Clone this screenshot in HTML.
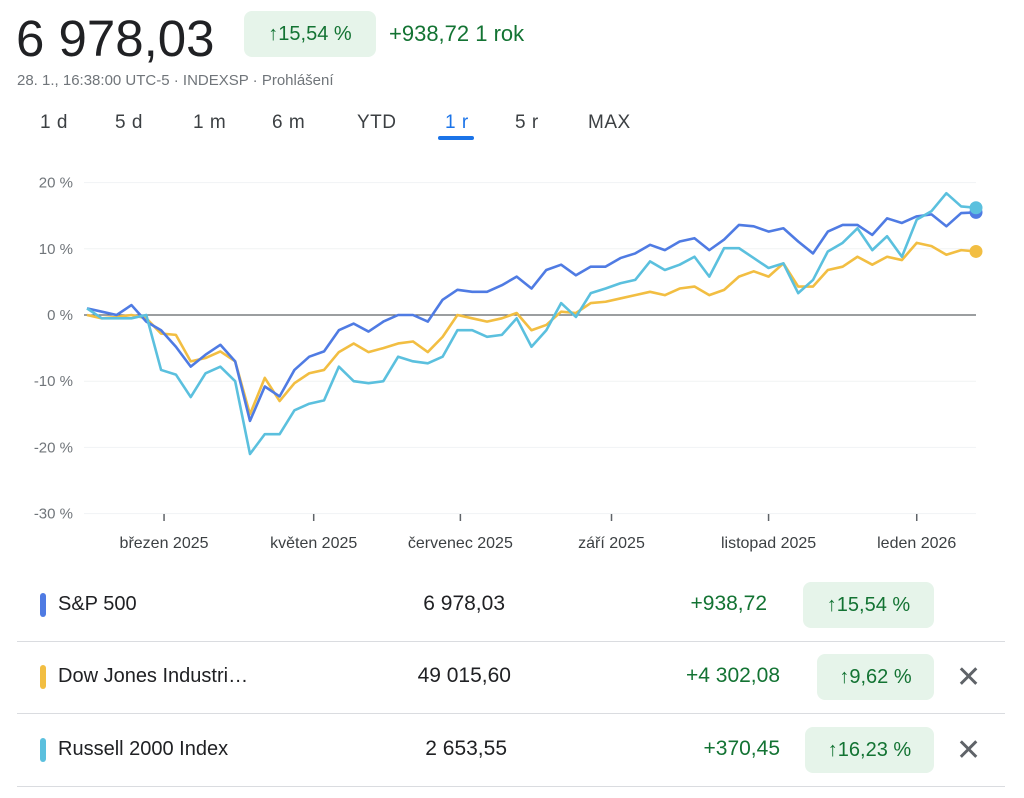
<!DOCTYPE html>
<html><head><meta charset="utf-8">
<style>
body{margin:0;width:1024px;height:798px;background:#fff;font-family:"Liberation Sans",sans-serif;position:relative;overflow:hidden;color:#202124}
.abs{position:absolute;white-space:nowrap}
.badge{position:absolute;background:#e6f4ea;color:#137333;border-radius:8px;font-size:20px;text-align:center}
.green{color:#137333}
.tab{position:absolute;top:112px;font-size:19px;color:#3c4043;letter-spacing:0.5px}
.row-line{position:absolute;left:17px;width:988px;height:1px;background:#dadce0}
.swatch{position:absolute;left:40px;width:6px;height:24px;border-radius:3px}
.name{position:absolute;left:58px;font-size:20px;color:#202124}
.val{position:absolute;font-size:21px;color:#202124;text-align:right}
.chg{position:absolute;font-size:21px;color:#137333;text-align:right}
.x{position:absolute;left:956px;font-size:30px;color:#5f6368;line-height:30px}
</style></head><body>
<div class="abs" style="left:16px;top:9px;font-size:51px;color:#202124">6 978,03</div>
<div class="badge" style="left:244px;top:11px;width:132px;height:46px;line-height:46px">↑15,54 %</div>
<div class="abs green" style="left:389px;top:21px;font-size:22px">+938,72 1 rok</div>
<div class="abs" style="left:17px;top:72px;font-size:15px;color:#70757a">28. 1., 16:38:00 UTC-5 · INDEXSP · Prohlášení</div>
<div class="tab" style="left:40px">1 d</div>
<div class="tab" style="left:115px">5 d</div>
<div class="tab" style="left:193px">1 m</div>
<div class="tab" style="left:272px">6 m</div>
<div class="tab" style="left:357px">YTD</div>
<div class="tab" style="left:445px;color:#1a73e8">1 r</div>
<div class="abs" style="left:438px;top:136px;width:36px;height:4px;border-radius:2px;background:#1a73e8"></div>
<div class="tab" style="left:515px">5 r</div>
<div class="tab" style="left:588px">MAX</div>

<svg id="chart" width="1024" height="560" style="position:absolute;left:0;top:0"></svg>

<div class="row-line" style="top:641px"></div>
<div class="row-line" style="top:713px"></div>
<div class="row-line" style="top:786px"></div>

<div class="swatch" style="top:593px;background:#4f7be3"></div>
<div class="name" style="top:593px">S&amp;P 500</div>
<div class="val" style="left:380px;width:125px;top:592px">6 978,03</div>
<div class="chg" style="left:620px;width:147px;top:592px">+938,72</div>
<div class="badge" style="left:803px;top:582px;width:131px;height:46px;line-height:46px">↑15,54 %</div>

<div class="swatch" style="top:665px;background:#f2be42"></div>
<div class="name" style="top:665px">Dow Jones Industri…</div>
<div class="val" style="left:380px;width:131px;top:664px">49 015,60</div>
<div class="chg" style="left:620px;width:160px;top:664px">+4 302,08</div>
<div class="badge" style="left:817px;top:654px;width:117px;height:46px;line-height:46px">↑9,62 %</div>
<div class="x" style="top:663px">✕</div>

<div class="swatch" style="top:738px;background:#5bc0de"></div>
<div class="name" style="top:738px">Russell 2000 Index</div>
<div class="val" style="left:380px;width:127px;top:737px">2 653,55</div>
<div class="chg" style="left:620px;width:160px;top:737px">+370,45</div>
<div class="badge" style="left:805px;top:727px;width:129px;height:46px;line-height:46px">↑16,23 %</div>
<div class="x" style="top:736px">✕</div>

<script>
const yTicks = [20, 10, 0, -10, -20, -30];
const monthLabels = ["březen 2025","květen 2025","červenec 2025","září 2025","listopad 2025","leden 2026"];
const monthIndex = [5.2, 15.3, 25.2, 35.4, 46.0, 56.0];
const sp500 = [1,0.5,0,1.5,-1,-2.3,-4.8,-7.8,-6,-4.5,-7,-16,-10.8,-12.3,-8.3,-6.3,-5.5,-2.3,-1.3,-2.5,-1,0,0,-1,2.3,3.8,3.5,3.5,4.5,5.8,4,6.8,7.6,6,7.3,7.3,8.6,9.3,10.6,9.8,11.1,11.6,9.8,11.4,13.6,13.4,12.6,13.1,11.1,9.3,12.6,13.6,13.6,12.1,14.6,13.9,14.9,15.2,13.4,15.4,15.5];
const dow = [0,-0.5,-0.3,0,-0.5,-2.8,-3,-7,-6.5,-5.5,-7,-15,-9.5,-13,-10.3,-8.8,-8.3,-5.6,-4.3,-5.6,-5,-4.3,-4,-5.6,-3.3,0,-0.5,-1,-0.5,0.3,-2.3,-1.5,0.5,0.3,1.8,2,2.5,3,3.5,3,4,4.3,3,3.8,5.8,6.6,5.8,7.8,4.3,4.3,6.8,7.3,8.8,7.6,8.8,8.3,10.9,10.4,9.1,9.8,9.6];
const russell = [1,-0.5,-0.5,-0.5,0,-8.3,-9,-12.4,-8.8,-7.8,-10,-21,-18,-18,-14.4,-13.4,-12.9,-7.8,-10,-10.3,-10,-6.3,-7,-7.3,-6.3,-2.3,-2.3,-3.3,-3,-0.5,-4.8,-2.3,1.8,-0.3,3.3,4,4.8,5.3,8.1,6.8,7.6,8.8,5.8,10.1,10.1,8.6,7.1,7.8,3.3,5.3,9.6,10.9,13.1,9.8,11.9,8.8,14.4,15.7,18.4,16.4,16.2];

const NS='http://www.w3.org/2000/svg';
const svg=document.getElementById('chart');
const X0=87, X1=976, N=sp500.length;
const xs=i=>X0+i*(X1-X0)/(N-1);
const ys=v=>315-v*6.62;
function mk(t,a){const e=document.createElementNS(NS,t);for(const k in a)e.setAttribute(k,a[k]);svg.appendChild(e);return e;}
yTicks.forEach(t=>{
  if(t!==0){const g=mk('line',{x1:84,x2:976,y1:ys(t),y2:ys(t),stroke:'#f1f3f4','stroke-width':1});
  
  }
  const l=mk('text',{x:73,y:ys(t)+5,'text-anchor':'end','font-size':15,fill:'#70757a','font-family':'Liberation Sans, sans-serif'});
  l.textContent=t+' %';
  
  
});
monthIndex.forEach((m,i)=>{
  const x=xs(m);
  const tk=mk('line',{x1:x,x2:x,y1:514,y2:521,stroke:'#5f6368','stroke-width':1.5});
  
  
  const l=mk('text',{x:x,y:548,'text-anchor':'middle','font-size':16,fill:'#3c4043','font-family':'Liberation Sans, sans-serif'});
  l.textContent=monthLabels[i];
  
  
});
const zl=mk('line',{x1:84,x2:976,y1:ys(0),y2:ys(0),stroke:'#5f6368','stroke-width':1.3});


function series(arr,color,name){
  const p=mk('polyline',{points:arr.map((v,i)=>xs(i)+','+ys(v)).join(' '),fill:'none',stroke:color,'stroke-width':2.6,'stroke-linejoin':'round'});
  
  
  const c=mk('circle',{cx:xs(N-1),cy:ys(arr[N-1]),r:6.5,fill:color});
  
  
}
series(dow,'#f2be42','dow');
series(sp500,'#4f7be3','sp500');
series(russell,'#5bc0de','russell');
</script>
</body></html>
